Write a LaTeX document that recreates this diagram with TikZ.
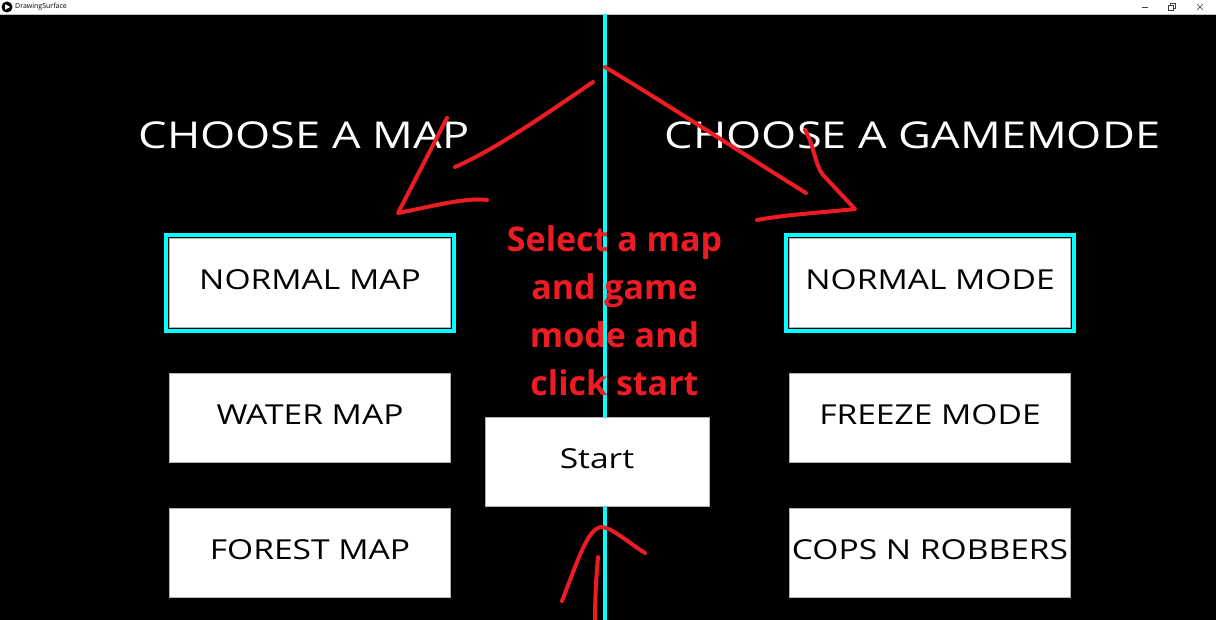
\documentclass[tikz,border=0pt]{standalone}
\usepackage{fontspec}
\setmainfont{Open Sans}
\newfontfamily\uifont[FakeStretch=1.22]{Open Sans}
\newfontfamily\notefont{Open Sans}
\usepackage{tikz}
\usetikzlibrary{positioning,calc}
\definecolor{selcyan}{RGB}{0,255,255}
\definecolor{penred}{RGB}{237,28,36}

\begin{document}
\begin{tikzpicture}[x=1pt, y=-1pt]
        % Define styles
        \tikzset{
            button/.style={draw=gray!60, line width=0.8pt, fill=white, minimum width=281pt, minimum height=89pt, inner sep=0pt, text height=20pt, text depth=6pt, font=\uifont\fontsize{27.5}{30}\selectfont},
            selected/.style={draw=selcyan, line width=4pt},
            heading/.style={text=white, inner sep=0pt, font=\uifont\fontsize{37}{40}\selectfont},
            note/.style={text=penred, inner sep=0pt, align=center, font=\notefont\bfseries\fontsize{34}{48}\selectfont},
            stroke/.style={draw=penred, line width=4pt, line cap=round, line join=round},
            divider/.style={draw=selcyan, line width=4pt},
            winctl/.style={draw=black!75, line width=0.6pt}
        }
        \useasboundingbox (0,0) rectangle (1216,620);

        % Window frame
        \fill[black] (0,14) rectangle (1216,620);
        \fill[white] (0,0) rectangle (1216,14);
        \draw[gray!50, line width=0.6pt] (0,14.3) -- (1216,14.3);
        \fill[black] (7,7) circle (5.5pt);
        \fill[white] (5.2,4.3) -- (10.2,7) -- (5.2,9.7) -- cycle;
        \node[anchor=west, inner sep=0pt, font=\fontsize{7}{8}\selectfont] (apptitle) at (15,7) {DrawingSurface};
        \draw[winctl] (1142,7) -- (1148,7);
        \draw[winctl] (1168,5) rectangle (1173,10);
        \draw[winctl] (1170,5) -- (1170,3) -- (1175,3) -- (1175,8) -- (1173,8);
        \draw[winctl] (1197,4) -- (1203,10);
        \draw[winctl] (1197,10) -- (1203,4);

        % Divider
        \coordinate (top) at (605,14);
        \coordinate (bottom) at (605,620);
        \draw[divider] (top) -- (bottom);

        % Place nodes
        \node[heading] (maptitle) at (304,135.5) {CHOOSE A MAP};
        \node[heading] (modetitle) at (912.5,135.5) {CHOOSE A GAMEMODE};

        \node[button] (normalmap) at (310,283) {NORMAL MAP};
        \node[button, below=45pt of normalmap] (watermap) {WATER MAP};
        \node[button, below=45pt of watermap] (forestmap) {FOREST MAP};

        \node[button] (normalmode) at (930,283) {NORMAL MODE};
        \node[button, below=45pt of normalmode] (freezemode) {FREEZE MODE};
        \node[button, below=45pt of freezemode] (copsmode) {COPS N ROBBERS};

        \node[button, minimum width=224pt] (start) at (597,461.5) {Start};

        \node[note] (hint) at (614.5,311) {Select a map\\and game\\mode and\\click start};

        % Mark the selected buttons
        \draw[selected] ([shift={(-2.7,-2.7)}]normalmap.north west) rectangle ([shift={(2.7,2.7)}]normalmap.south east);
        \draw[selected] ([shift={(-2.7,-2.7)}]normalmode.north west) rectangle ([shift={(2.7,2.7)}]normalmode.south east);

        % Draw arrows
        \draw[stroke] (593,82) .. controls (555,108) and (495,150) .. (455,167);
        \draw[stroke] (447,118) -- (398,213) .. controls (425,208) and (465,197) .. (487,200);

        \draw[stroke] (605,67) .. controls (670,106) and (740,152) .. (806,193);
        \draw[stroke] (805,130) .. controls (814,145) and (815,165) .. (823,175) -- (855,209) .. controls (830,212) and (790,214) .. (757,220);

        \draw[stroke] (598,557) .. controls (596,580) and (595,600) .. (595,622);
        \draw[stroke] (562,601) .. controls (578,560) and (588,527) .. (602,527) .. controls (612,528) and (625,540) .. (645,553);
    \end{tikzpicture}
\end{document}
